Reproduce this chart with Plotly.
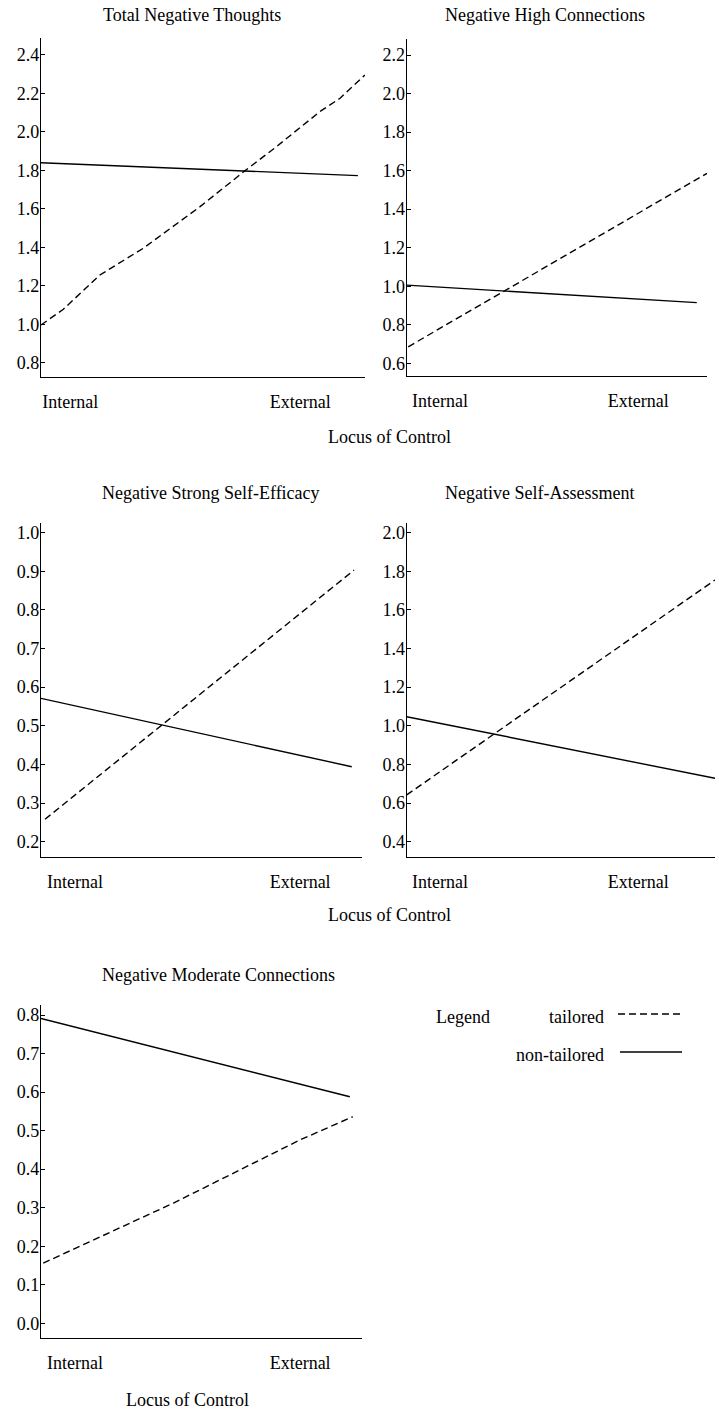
import plotly.graph_objects as go

# ---------------- data ----------------
x_tick_labels = ["Internal", "External"]
x_tick_pos = [[0.09, 0.80], [0.111, 0.771], [0.106, 0.808], [0.108, 0.751], [0.106, 0.808]]

titles = ["Total Negative Thoughts", "Negative High Connections",
          "Negative Strong Self-Efficacy", "Negative Self-Assessment",
          "Negative Moderate Connections"]

tailored_x = [
    [0.0, 0.069, 0.182, 0.316, 0.491, 0.630, 0.727, 0.861, 0.923, 1.0],
    [0.005, 1.0],
    [0.0125, 0.976],
    [0.0, 1.0],
    [0.007, 0.413, 0.808, 0.972],
]
tailored_y = [
    [0.997, 1.079, 1.257, 1.396, 1.612, 1.799, 1.924, 2.106, 2.175, 2.296],
    [0.686, 1.586],
    [0.258, 0.903],
    [0.642, 1.755],
    [0.156, 0.312, 0.476, 0.536],
]
nontailored_x = [
    [0.0, 0.978],
    [0.0, 0.966],
    [0.0, 0.969],
    [0.0, 1.0],
    [0.0, 0.963],
]
nontailored_y = [
    [1.84, 1.773],
    [1.006, 0.915],
    [0.571, 0.394],
    [1.047, 0.728],
    [0.791, 0.588],
]

y_ranges = [[0.727, 2.488], [0.536, 2.283], [0.161, 1.025], [0.322, 2.05], [-0.039, 0.826]]
y_ticks = [
    [0.8, 1.0, 1.2, 1.4, 1.6, 1.8, 2.0, 2.2, 2.4],
    [0.6, 0.8, 1.0, 1.2, 1.4, 1.6, 1.8, 2.0, 2.2],
    [0.2, 0.3, 0.4, 0.5, 0.6, 0.7, 0.8, 0.9, 1.0],
    [0.4, 0.6, 0.8, 1.0, 1.2, 1.4, 1.6, 1.8, 2.0],
    [0.0, 0.1, 0.2, 0.3, 0.4, 0.5, 0.6, 0.7, 0.8],
]
legend_labels = ["tailored", "non-tailored"]
axis_title = "Locus of Control"

# ---------------- layout geometry (pixels) ----------------
W, H = 719, 1415
panel_px = [  # x0, x1, ytop, ybottom
    (41, 365, 38, 377),
    (406.7, 707, 39, 375.7),
    (41, 361.7, 523, 856.7),
    (406.7, 715, 523, 856.7),
    (41, 361.7, 1005, 1338.3),
]
title_px = [(192, 15), (545, 15), (211, 493), (539, 493), (218, 975)]
xlabel_px = [(390, 437), (390, 915), (187, 1400)]

FONT = "Liberation Serif"
FS = 18
DASH = "7px,4px"
LW = 1.4

def px_x(p):
    return p / W

def px_y(p):
    return 1 - p / H

fig = go.Figure()
layout = dict(
    width=W, height=H, margin=dict(l=0, r=0, t=0, b=0),
    paper_bgcolor="white", plot_bgcolor="white", showlegend=False,
    font=dict(family=FONT, size=FS, color="black"),
)

for i in range(5):
    n = i + 1
    xa = "x" if n == 1 else f"x{n}"
    ya = "y" if n == 1 else f"y{n}"
    fig.add_trace(go.Scatter(x=tailored_x[i], y=tailored_y[i], mode="lines",
                             line=dict(color="black", width=LW, dash=DASH),
                             xaxis=xa, yaxis=ya, name=legend_labels[0]))
    fig.add_trace(go.Scatter(x=nontailored_x[i], y=nontailored_y[i], mode="lines",
                             line=dict(color="black", width=LW),
                             xaxis=xa, yaxis=ya, name=legend_labels[1]))
    x0, x1, yt, yb = panel_px[i]
    layout["xaxis" if n == 1 else f"xaxis{n}"] = dict(
        domain=[px_x(x0), px_x(x1)], anchor=ya, range=[0, 1],
        showline=True, linecolor="black", linewidth=LW,
        showgrid=False, zeroline=False, ticks="",
        tickvals=x_tick_pos[i], ticktext=x_tick_labels,
        ticklabelstandoff=8, fixedrange=True,
    )
    layout["yaxis" if n == 1 else f"yaxis{n}"] = dict(
        domain=[px_y(yb), px_y(yt)], anchor=xa, range=y_ranges[i],
        showline=True, linecolor="black", linewidth=LW,
        showgrid=False, zeroline=False, ticks="inside", ticklen=4,
        tickwidth=1, tickcolor="black",
        tickvals=y_ticks[i], ticktext=[f"{v:.1f}" for v in y_ticks[i]],
        ticklabelstandoff=-3, fixedrange=True,
    )

annotations = []
for t, (cx, cy) in zip(titles, title_px):
    annotations.append(dict(text=t, x=px_x(cx), y=px_y(cy), xref="paper", yref="paper",
                            xanchor="center", yanchor="middle", showarrow=False))
for (cx, cy) in xlabel_px:
    annotations.append(dict(text=axis_title, x=px_x(cx), y=px_y(cy), xref="paper", yref="paper",
                            xanchor="center", yanchor="middle", showarrow=False))
# legend block
annotations.append(dict(text="Legend", x=px_x(463), y=px_y(1017), xref="paper", yref="paper",
                        xanchor="center", yanchor="middle", showarrow=False))
annotations.append(dict(text=legend_labels[0], x=px_x(606), y=px_y(1017), xref="paper", yref="paper",
                        xanchor="right", yanchor="middle", showarrow=False))
annotations.append(dict(text=legend_labels[1], x=px_x(606), y=px_y(1055), xref="paper", yref="paper",
                        xanchor="right", yanchor="middle", showarrow=False))
layout["annotations"] = annotations
layout["shapes"] = [
    dict(type="line", xref="paper", yref="paper", x0=px_x(618), x1=px_x(681),
         y0=px_y(1014), y1=px_y(1014), line=dict(color="black", width=LW, dash=DASH)),
    dict(type="line", xref="paper", yref="paper", x0=px_x(620), x1=px_x(682),
         y0=px_y(1052), y1=px_y(1052), line=dict(color="black", width=LW)),
]

fig.update_layout(**layout)
fig.write_html(
    "out.html",
    config={"displayModeBar": False},
    post_script="document.body.style.margin='0';document.body.style.overflow='hidden';",
)
